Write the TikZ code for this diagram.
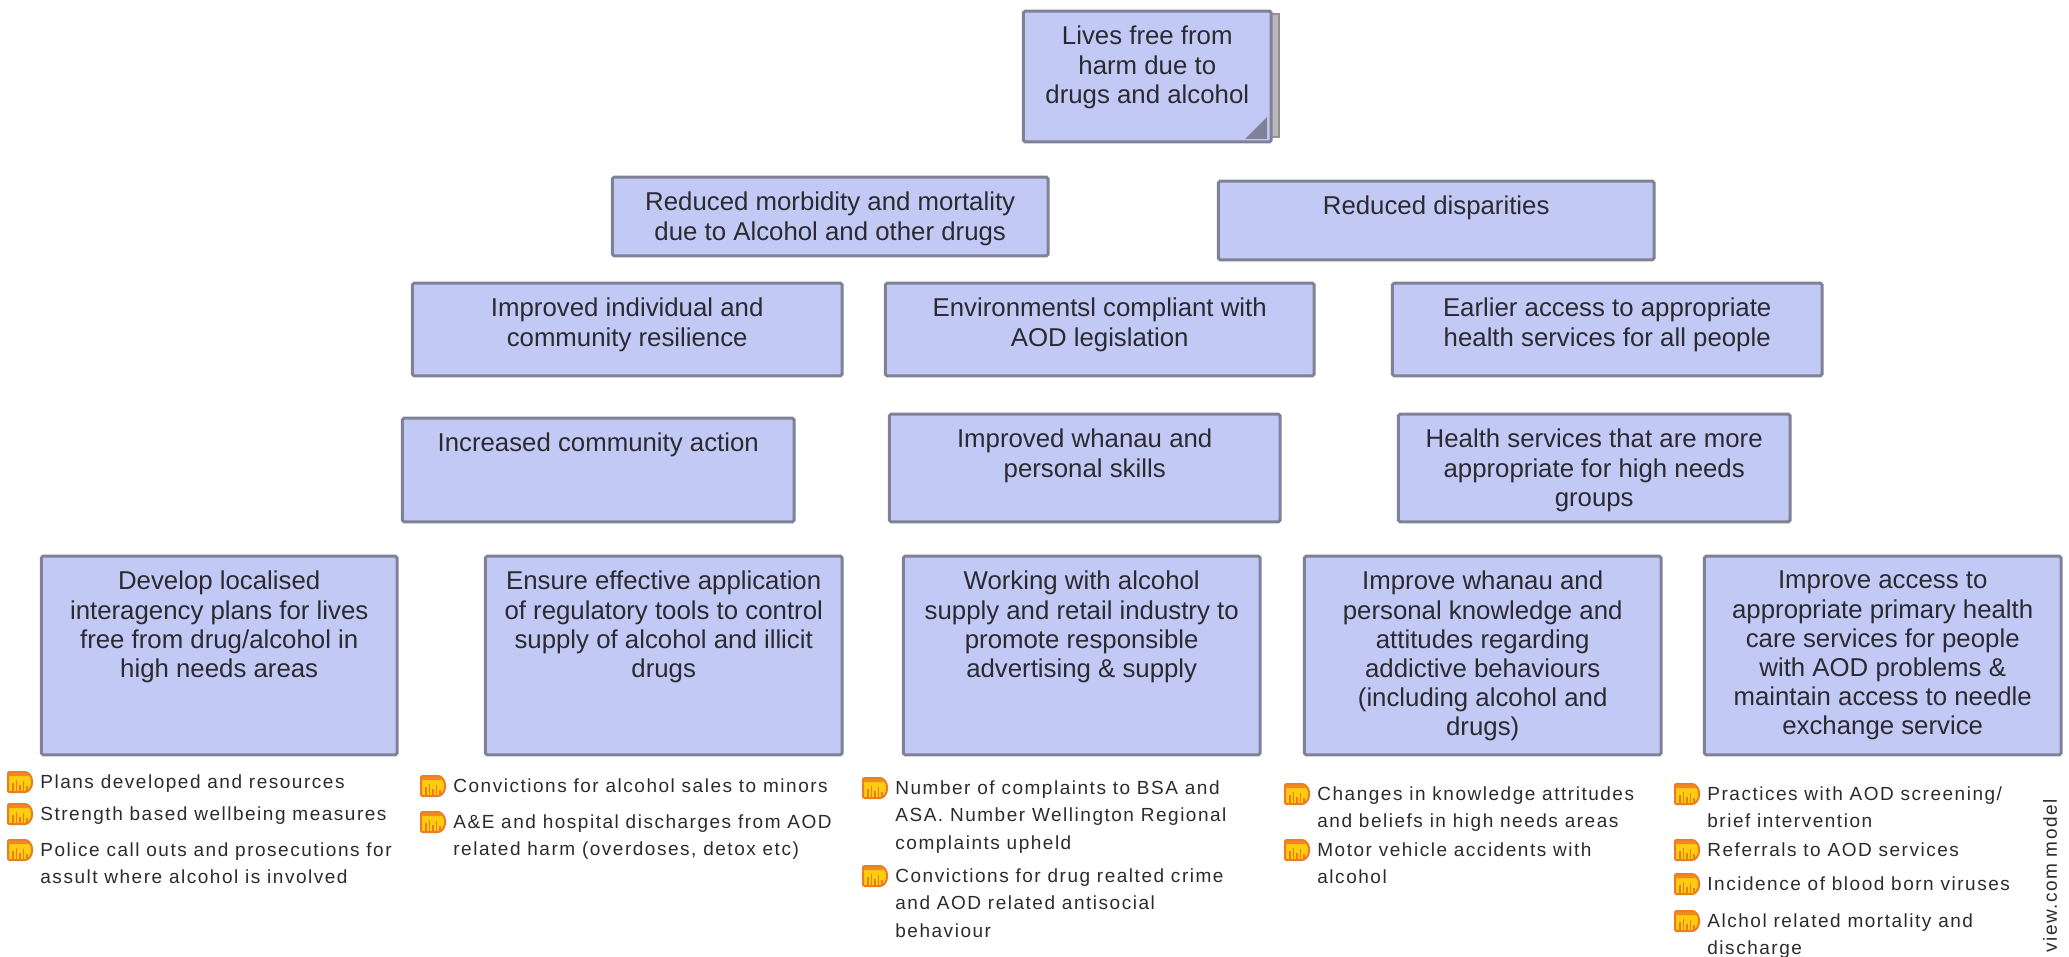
\documentclass[tikz,border=0pt]{standalone}
\usepackage{fontspec}
\setmainfont{Liberation Sans}
\newfontfamily\indfont[LetterSpace=8]{Liberation Sans}
\usepackage{tikz}
\usetikzlibrary{positioning}
\definecolor{goalfill}{HTML}{C3C9F5}
\definecolor{goalline}{HTML}{7F8296}
\definecolor{inkgrey}{HTML}{2A2A30}
\definecolor{iconline}{HTML}{EE7A22}
\definecolor{iconfill}{HTML}{FFCC10}
% box text sits at the top of the box
\newcommand{\boxtext}[3]{\parbox[c][\dimexpr#2-0.7pt][t]{\dimexpr#1-0.7pt}{\centering\vspace*{7.5pt}#3}}
\tikzset{
  goalbox/.style={ draw=goalline, fill=goalfill, line width=1.5pt, rounded corners=0.8pt,
    inner sep=0pt, outer sep=0pt, anchor=north west, xshift=0.7pt, yshift=-0.6pt,
    text=inkgrey, font=\fontsize{12.9}{14.6}\selectfont }
}
\tikzset{
  indtext/.style={ anchor=north west, inner sep=0pt, align=left, text=inkgrey,
    font=\indfont\fontsize{9.5}{13.8}\selectfont }
}
\tikzset{
  indicon/.pic={
    \fill[iconfill, draw=iconline, line width=1pt, rounded corners=0.6pt]
      (0,-10) -- (16,-10) to[out=0, in=90] (24,0) to[out=-90, in=0] (16,10) -- (0,10) -- cycle;
    \fill[iconline!80!iconfill] (0.5,-9.5) -- (16,-9.5) to[out=0, in=125] (21,-6) -- (0.5,-6) -- cycle;
    \foreach \xb/\hb in {5/1, 8.5/-2, 12/3, 15.5/-1, 19/4}
      \draw[iconline, line width=0.6pt] (\xb,9) -- (\xb,\hb);
  }
}
\begin{document}
\begin{tikzpicture}[x=0.5pt,y=-0.5pt]
  \useasboundingbox (0,0) rectangle (2069,957);

  % top goal with its stacked page
  \fill[gray!55, draw=gray!85, line width=1pt] (1262,14) rectangle (1279,137);
  \node[goalbox] (lives) at (1022,10) {\boxtext{124.6pt}{66pt}{Lives free from\\harm due to\\drugs and alcohol}};
  \fill[goalline] (1267,139) -- (1267,117) -- (1245,139) -- cycle;

  \node[goalbox] (morbidity) at (611,176) {\boxtext{218.5pt}{40pt}{Reduced morbidity and mortality\\due to Alcohol and other drugs}};
  \node[goalbox] (disparities) at (1217,180) {\boxtext{218.5pt}{40pt}{Reduced disparities}};

  \node[goalbox] (resilience) at (411,282) {\boxtext{215.5pt}{47pt}{Improved individual and\\community resilience}};
  \node[goalbox] (compliant) at (884,282) {\boxtext{215pt}{47pt}{Environmentsl compliant with\\AOD legislation}};
  \node[goalbox] (access) at (1391,282) {\boxtext{215.5pt}{47pt}{Earlier access to appropriate\\health services for all people}};

  \node[goalbox] (action) at (401,417) {\boxtext{196.5pt}{52.5pt}{Increased community action}};
  \node[goalbox] (skills) at (888,413) {\boxtext{196pt}{54.5pt}{Improved whanau and\\personal skills}};
  \node[goalbox] (services) at (1397,413) {\boxtext{196.5pt}{54.5pt}{Health services that are more\\appropriate for high needs\\groups}};

  \node[goalbox] (plans) at (40,555) {\boxtext{178.5pt}{100pt}{Develop localised\\interagency plans for lives\\free from drug/alcohol in\\high needs areas}};
  \node[goalbox] (tools) at (484,555) {\boxtext{179pt}{100pt}{Ensure effective application\\of regulatory tools to control\\supply of alcohol and illicit\\drugs}};
  \node[goalbox] (retail) at (902,555) {\boxtext{179pt}{100pt}{Working with alcohol\\supply and retail industry to\\promote responsible\\advertising \& supply}};
  \node[goalbox] (attitudes) at (1303,555) {\boxtext{179pt}{100pt}{Improve whanau and\\personal knowledge and\\attitudes regarding\\addictive behaviours\\(including alcohol and\\drugs)}};
  \node[goalbox] (primary) at (1703,555) {\boxtext{179pt}{100pt}{Improve access to\\appropriate primary health\\care services for people\\with AOD problems \&\\maintain access to needle\\exchange service}};

  % indicators under each box
  \node[indtext] (ind1a) at (40,774) {Plans developed and resources};
  \node[indtext] (ind1b) at (40,806) {Strength based wellbeing measures};
  \node[indtext] (ind1c) at (40,842) {Police call outs and prosecutions for\\assult where alcohol is involved};

  \node[indtext] (ind2a) at (453,778) {Convictions for alcohol sales to minors};
  \node[indtext] (ind2b) at (453,814) {A\&E and hospital discharges from AOD\\related harm (overdoses, detox etc)};

  \node[indtext] (ind3a) at (895,780) {Number of complaints to BSA and\\ASA. Number Wellington Regional\\complaints upheld};
  \node[indtext] (ind3b) at (895,868) {Convictions for drug realted crime\\and AOD related antisocial\\behaviour};

  \node[indtext] (ind4a) at (1317,786) {Changes in knowledge attritudes\\and beliefs in high needs areas};
  \node[indtext] (ind4b) at (1317,842) {Motor vehicle accidents with\\alcohol};

  \node[indtext] (ind5a) at (1707,786) {Practices with AOD screening/\\brief intervention};
  \node[indtext] (ind5b) at (1707,842) {Referrals to AOD services};
  \node[indtext] (ind5c) at (1707,876) {Incidence of blood born viruses};
  \node[indtext] (ind5d) at (1707,913) {Alchol related mortality and\\discharge};

  \foreach \ind in {ind1a,ind1b,ind1c,ind2a,ind2b,ind3a,ind3b,ind4a,ind4b,ind5a,ind5b,ind5c,ind5d}
    \pic at ([xshift=-16pt,yshift=-4pt]\ind.north west) {indicon};

  \node[indtext, rotate=90, anchor=west] (credit) at (2050,953) {view.com model};
\end{tikzpicture}
\end{document}
